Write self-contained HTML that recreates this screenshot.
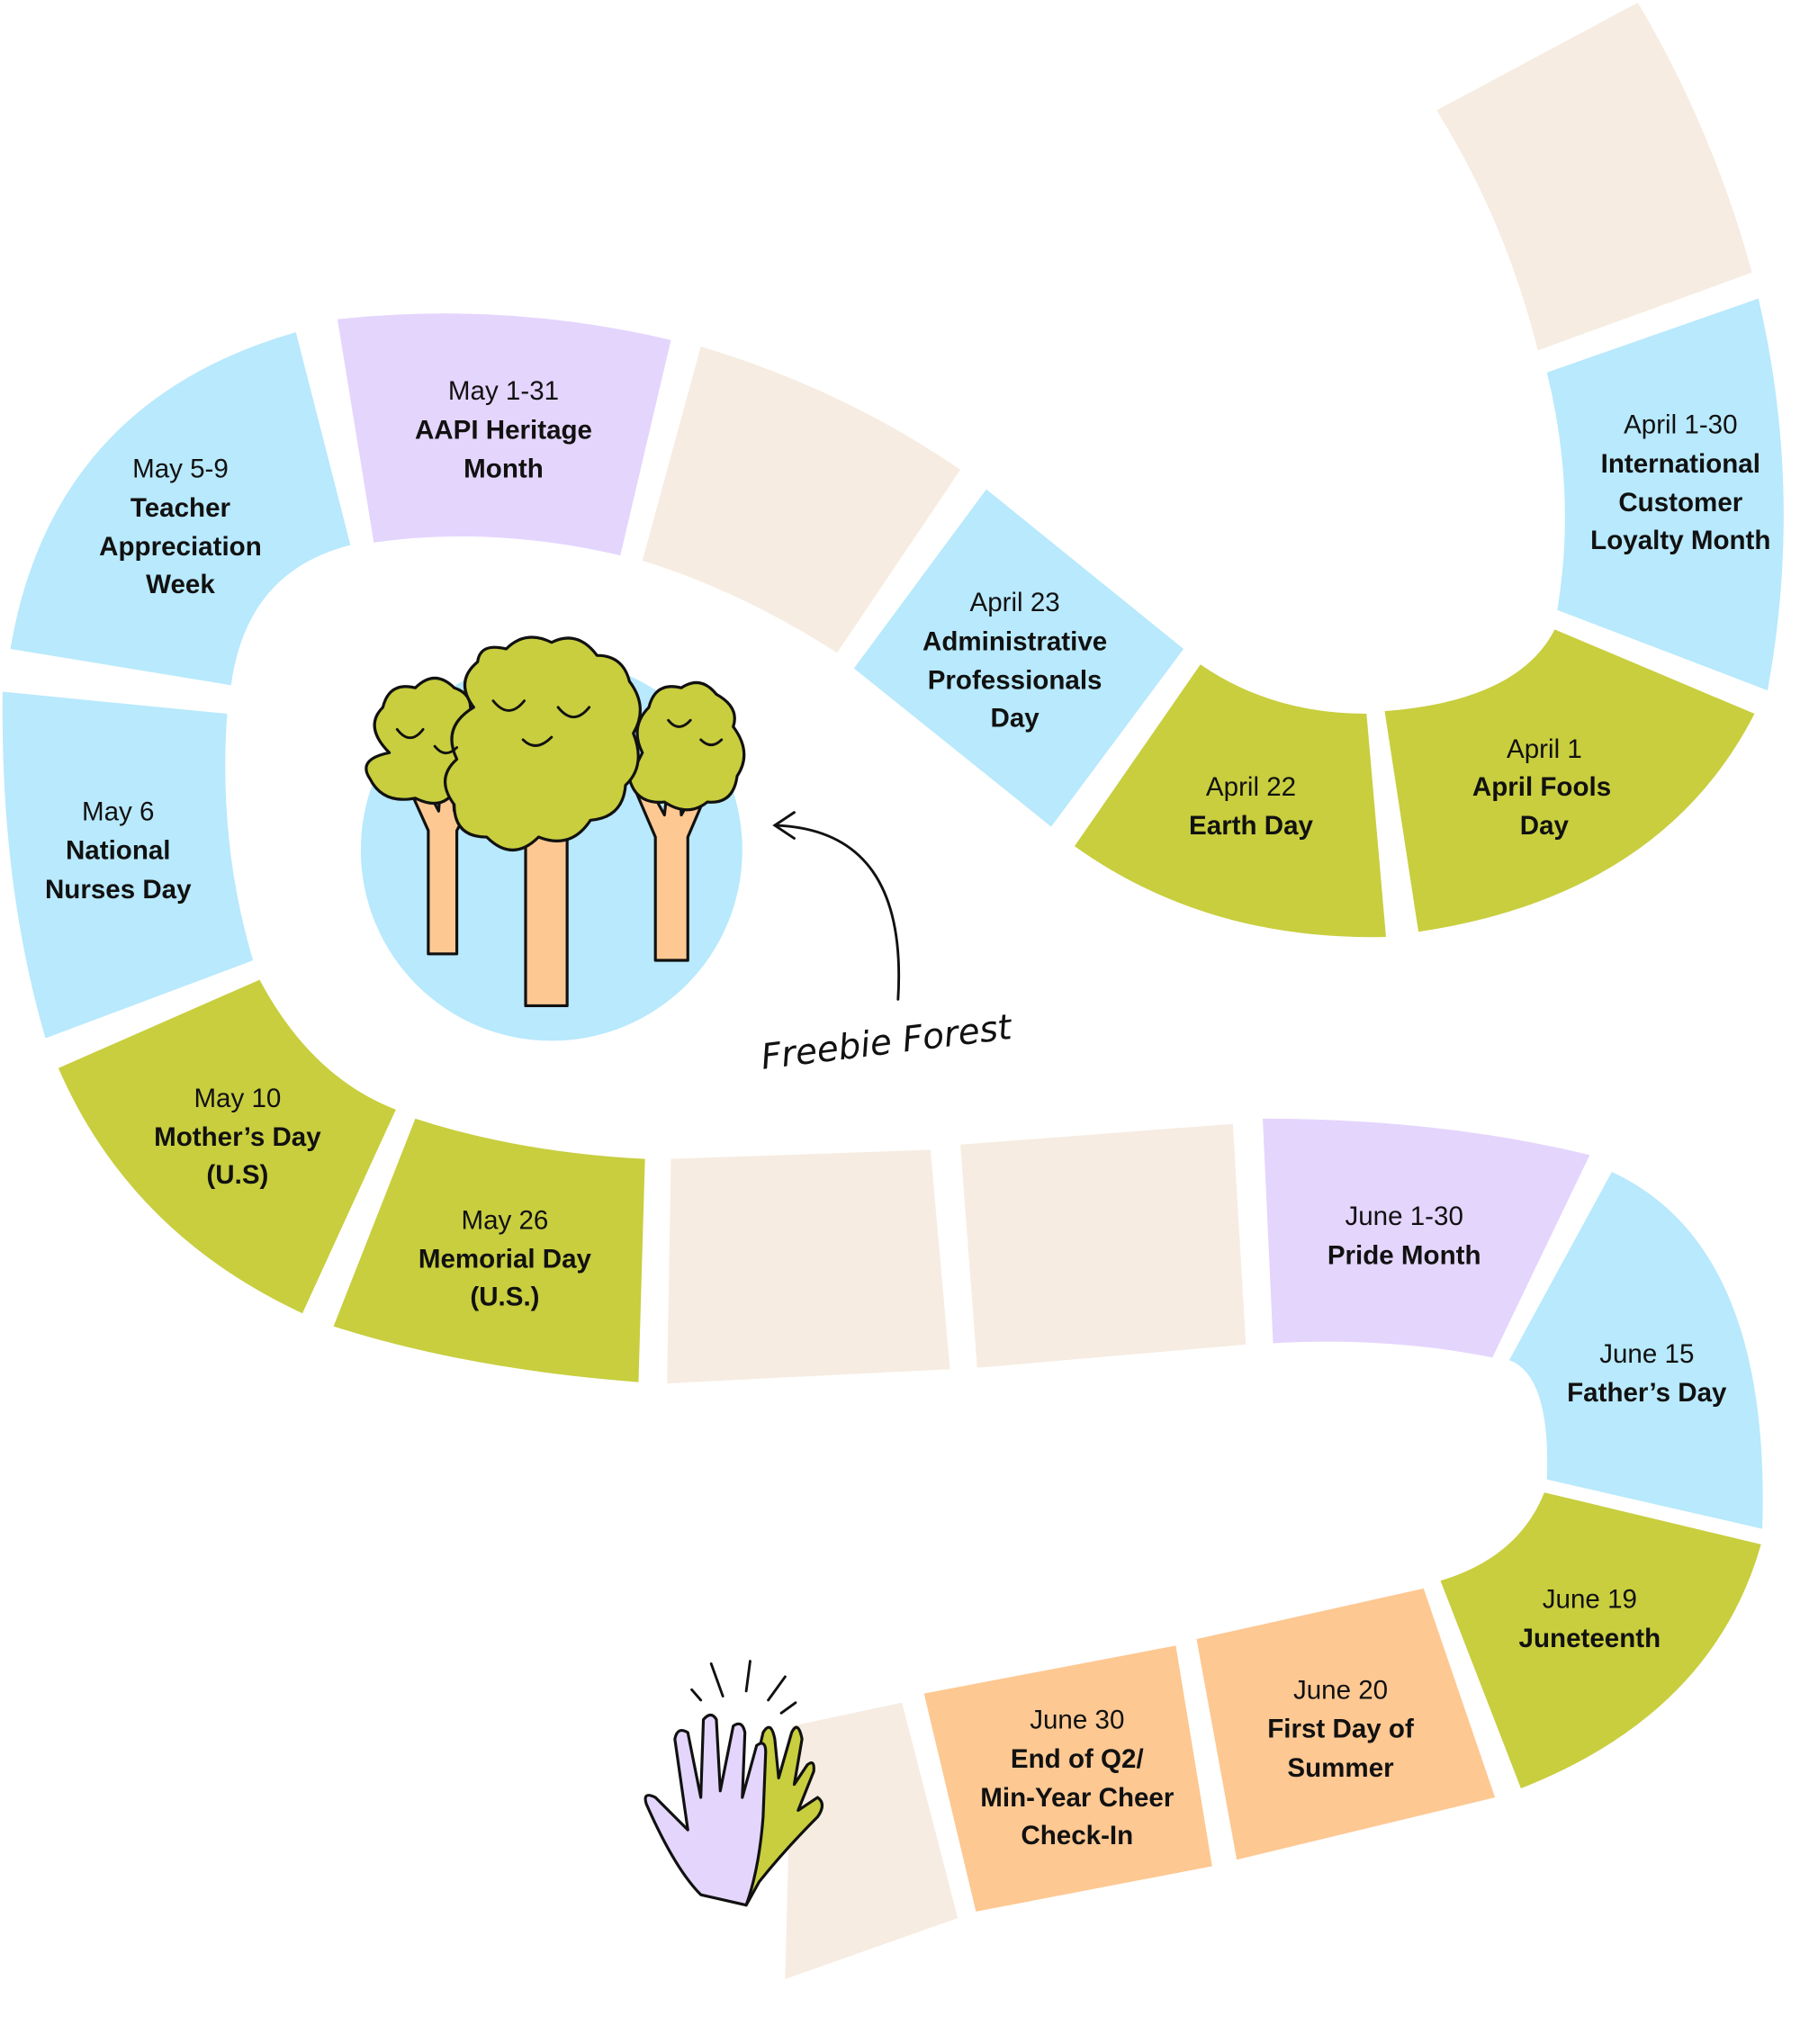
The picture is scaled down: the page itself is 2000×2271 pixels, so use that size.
<!DOCTYPE html>
<html><head><meta charset="utf-8"><style>
html,body{margin:0;padding:0;background:#fff;}
svg{display:block;}
text{font-family:"Liberation Sans",sans-serif;font-size:20.5px;fill:#111;text-anchor:middle;}
.b{font-weight:bold;}
</style></head><body>
<svg width="2000" height="2271" viewBox="0 0 1387 1575" xmlns="http://www.w3.org/2000/svg">
<g stroke="none">
<path d="M1107,85 L1262,2 Q1320,100 1350,210 L1185,270 Q1160,170 1107,85Z" fill="#f6ece1"/>
<path d="M1192,287 L1355,230 Q1390,380 1362,532 L1200,470 Q1215,380 1192,287Z" fill="#b8e9fc"/>
<path d="M1198,485 L1352,550 Q1280,690 1093,718 L1067,548 Q1170,540 1198,485Z" fill="#c8ce3e"/>
<path d="M925,512 Q980,550 1053,550 L1068,722 Q930,725 828,652Z" fill="#c8ce3e"/>
<path d="M760,377 L912,500 L810,637 L658,515Z" fill="#b8e9fc"/>
<path d="M540,267 Q650,300 740,362 L645,503 Q570,455 495,432Z" fill="#f6ece1"/>
<path d="M260,246 Q390,232 517,262 L478,428 Q380,405 288,418Z" fill="#e4d5fd"/>
<path d="M8,500 Q40,310 228,256 L270,420 Q190,440 178,528Z" fill="#b8e9fc"/>
<path d="M2,533 L175,550 Q168,650 195,740 L35,800 Q0,680 2,533Z" fill="#b8e9fc"/>
<path d="M45,823 L200,755 Q240,830 305,855 L233,1012 Q100,950 45,823Z" fill="#c8ce3e"/>
<path d="M320,862 Q400,888 497,893 L492,1065 Q360,1055 257,1022Z" fill="#c8ce3e"/>
<path d="M517,893 L717,886 L732,1055 L514,1066Z" fill="#f6ece1"/>
<path d="M740,882 L950,866 L960,1036 L753,1054Z" fill="#f6ece1"/>
<path d="M973,862 Q1110,862 1225,890 L1150,1046 Q1070,1030 981,1035Z" fill="#e4d5fd"/>
<path d="M1242,903 Q1365,960 1358,1178 L1192,1140 Q1195,1060 1163,1048Z" fill="#b8e9fc"/>
<path d="M1190,1150 L1357,1190 Q1320,1320 1172,1378 L1110,1218 Q1170,1200 1190,1150Z" fill="#c8ce3e"/>
<path d="M922,1263 L1097,1224 L1152,1385 L953,1433Z" fill="#fdc892"/>
<path d="M712,1305 L906,1268 L934,1438 L752,1473Z" fill="#fdc892"/>
<path d="M610,1330 L695,1312 L738,1478 L605,1525Z" fill="#f6ece1"/>
</g>

<text x="1295" y="334">April 1-30</text>
<text class="b" x="1295" y="364">International</text>
<text class="b" x="1295" y="394">Customer</text>
<text class="b" x="1295" y="423">Loyalty Month</text>
<text x="1190" y="584">April 1</text>
<text class="b" x="1188" y="613">April Fools</text>
<text class="b" x="1190" y="643">Day</text>
<text x="964" y="613">April 22</text>
<text class="b" x="964" y="643">Earth Day</text>
<text x="782" y="471">April 23</text>
<text class="b" x="782" y="501">Administrative</text>
<text class="b" x="782" y="531">Professionals</text>
<text class="b" x="782" y="560">Day</text>
<text x="388" y="308">May 1-31</text>
<text class="b" x="388" y="338">AAPI Heritage</text>
<text class="b" x="388" y="368">Month</text>
<text x="139" y="368">May 5-9</text>
<text class="b" x="139" y="398">Teacher</text>
<text class="b" x="139" y="428">Appreciation</text>
<text class="b" x="139" y="457">Week</text>
<text x="91" y="632">May 6</text>
<text class="b" x="91" y="662">National</text>
<text class="b" x="91" y="692">Nurses Day</text>
<text x="183" y="853">May 10</text>
<text class="b" x="183" y="883">Mother’s Day</text>
<text class="b" x="183" y="912">(U.S)</text>
<text x="389" y="947">May 26</text>
<text class="b" x="389" y="977">Memorial Day</text>
<text class="b" x="389" y="1006">(U.S.)</text>
<text x="1082" y="944">June 1-30</text>
<text class="b" x="1082" y="974">Pride Month</text>
<text x="1269" y="1050">June 15</text>
<text class="b" x="1269" y="1080">Father’s Day</text>
<text x="1225" y="1239">June 19</text>
<text class="b" x="1225" y="1269">Juneteenth</text>
<text x="1033" y="1309">June 20</text>
<text class="b" x="1033" y="1339">First Day of</text>
<text class="b" x="1033" y="1369">Summer</text>
<text x="830" y="1332">June 30</text>
<text class="b" x="830" y="1362">End of Q2/</text>
<text class="b" x="830" y="1392">Min-Year Cheer</text>
<text class="b" x="830" y="1421">Check-In</text>

<circle cx="425" cy="655" r="147" fill="#b8e9fc"/>
<g stroke="#111" stroke-width="2.2" stroke-linejoin="round">
<path d="M330,735 L330,640 L312,600 L325,600 L338,625 L340,598 L348,598 L350,625 L360,605 L368,610 L352,640 L352,735Z" fill="#fdc892"/>
<path d="M505,740 L505,645 L490,610 L500,606 L512,628 L515,600 L523,600 L525,628 L538,605 L545,610 L530,645 L530,740Z" fill="#fdc892"/>
<path d="M405,775 L405,640 L385,595 L398,590 L415,622 L418,585 L428,585 L430,622 L448,590 L460,596 L437,640 L437,775Z" fill="#fdc892"/>
<path d="M300,580 Q280,560 295,545 Q300,525 320,530 Q335,515 350,530 Q365,535 362,550 Q378,565 365,585 Q370,605 350,610 Q340,625 320,615 Q295,620 285,600 Q275,585 300,580Z" fill="#c8ce3e"/>
<path d="M495,580 Q485,560 500,545 Q505,525 525,530 Q540,520 552,535 Q570,545 565,560 Q580,580 568,598 Q565,620 545,618 Q530,630 512,618 Q490,620 485,600Z" fill="#c8ce3e"/>
<path d="M365,545 Q350,525 368,510 Q370,495 390,500 Q405,485 425,495 Q445,485 460,505 Q480,505 485,525 Q500,545 488,565 Q498,590 482,605 Q480,630 455,632 Q440,655 415,645 Q395,665 375,645 Q350,645 350,620 Q335,600 352,585 Q340,560 365,545Z" fill="#c8ce3e"/>
</g>
<g stroke="#111" stroke-width="2" fill="none" stroke-linecap="round">
<path d="M380,540 Q392,555 404,540"/><path d="M430,545 Q442,560 454,545"/><path d="M403,570 Q413,580 425,568"/>
<path d="M306,562 Q316,575 326,562"/><path d="M335,575 Q343,585 352,576"/>
<path d="M515,555 Q523,565 532,555"/><path d="M540,570 Q548,578 556,570"/>
<path d="M692,770 Q700,640 598,636"/>
<path d="M612,626 L597,636 L612,646"/>
</g>
<text x="684" y="812" transform="rotate(-7 684 812)" style="font-family:'DejaVu Sans',sans-serif;font-style:italic;font-size:27px;">Freebie Forest</text>

<g stroke="#111" stroke-width="2.2" stroke-linejoin="round">
<path d="M575,1468 L572,1405 L588,1335 Q594,1325 597,1340 L600,1370 L610,1335 Q615,1325 618,1340 L612,1375 L622,1360 Q628,1355 627,1365 L615,1395 L630,1385 Q637,1390 630,1400 Q605,1425 585,1450Z" fill="#c8ce3e"/>
<path d="M540,1460 Q520,1440 498,1390 Q495,1380 505,1385 L530,1410 L520,1340 Q522,1330 530,1335 L540,1385 L542,1325 Q548,1318 552,1325 L555,1380 L565,1330 Q572,1325 574,1335 L572,1385 L583,1345 Q590,1340 590,1350 L588,1400 Q585,1440 575,1468Z" fill="#e4d5fd"/>
</g>
<g stroke="#111" stroke-width="2" stroke-linecap="round">
<line x1="548" y1="1282" x2="557" y2="1307"/><line x1="578" y1="1280" x2="575" y2="1303"/><line x1="605" y1="1292" x2="592" y2="1310"/><line x1="613" y1="1312" x2="602" y2="1320"/><line x1="533" y1="1302" x2="540" y2="1310"/>
</g>
</svg>
</body></html>
